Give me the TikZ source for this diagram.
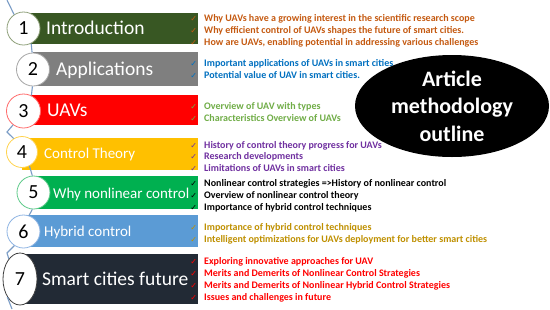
\documentclass[tikz,border=0pt]{standalone}
\usepackage{fontspec}
\setmainfont{Carlito}
\newfontfamily\symfont{DejaVu Sans}
\usetikzlibrary{shapes.geometric}
\definecolor{barA}{HTML}{385723}
\definecolor{barB}{HTML}{7F7F7F}
\definecolor{barC}{HTML}{FF0000}
\definecolor{barD}{HTML}{FFC000}
\definecolor{barE}{HTML}{00B050}
\definecolor{barF}{HTML}{5B9BD5}
\definecolor{barG}{HTML}{222A35}
\definecolor{txA}{HTML}{C55A11}
\definecolor{txB}{HTML}{0070C0}
\definecolor{txC}{HTML}{70AD47}
\definecolor{txD}{HTML}{7030A0}
\definecolor{txE}{HTML}{000000}
\definecolor{txF}{HTML}{BF9000}
\definecolor{txG}{HTML}{FF0000}
\definecolor{connc}{HTML}{7A9CC6}
\definecolor{rimA}{HTML}{8FA07A}
\definecolor{rimB}{HTML}{A6A6A6}
\definecolor{rimC}{HTML}{FF6B6B}
\definecolor{rimD}{HTML}{FFD34D}
\definecolor{rimE}{HTML}{5FCB8A}
\definecolor{rimF}{HTML}{8EB4E3}
\definecolor{rimG}{HTML}{404040}
\newcommand{\chk}{\llap{{\symfont\fontsize{8}{8}\selectfont ✓}\hspace{7pt}}}
\begin{document}
\begin{tikzpicture}[x=1pt,y=-1pt,
  bar/.style={rectangle, inner sep=0pt, anchor=north west},
  ttlbig/.style={anchor=base west, inner sep=0pt, text=white, font=\fontsize{19.5}{20}\selectfont},
  ttlsmall/.style={anchor=base west, inner sep=0pt, text=white, font=\fontsize{15}{16}\selectfont},
  numc/.style={circle, fill=white, line width=0.8pt, minimum size=33pt, inner sep=0pt, font=\fontsize{20}{20}\selectfont},
  item/.style={anchor=base west, inner sep=0pt, font=\bfseries\fontsize{10}{12}\selectfont},
  conn/.style={draw=connc, line width=1.1pt}]
\useasboundingbox (0,0) rectangle (550,309);
\fill[white] (0,0) rectangle (550,309);
% bars
\node[bar, fill=barA, minimum width=174pt, minimum height=31pt] (b1) at (24,13) {};
\node[bar, fill=barB, minimum width=165pt, minimum height=34pt] (b2) at (33,52) {};
\node[bar, fill=barC, minimum width=174pt, minimum height=30pt] (b3) at (24,95) {};
\node[bar, fill=barD, minimum width=176pt, minimum height=32pt] (b4) at (22,138) {};
\node[bar, fill=barE, minimum width=165pt, minimum height=33pt] (b5) at (33,176) {};
\node[bar, fill=barF, minimum width=174pt, minimum height=32pt] (b6) at (24,215) {};
\node[bar, fill=barG, minimum width=178pt, minimum height=50pt] (b7) at (20,254) {};
% titles
\node[ttlbig] (t1) at (46,34.7) {Introduction};
\node[ttlbig] (t2) at (56,75.2) {Applications};
\node[ttlbig] (t3) at (47,116) {UAVs};
\node[ttlsmall] (t4) at (44,158.5) {Control Theory};
\node[ttlsmall] (t5) at (53,198) {Why nonlinear control};
\node[ttlsmall] (t6) at (44,236) {Hybrid control};
\node[ttlbig] (t7) at (42,285) {Smart cities future};
% connectors
\coordinate (k0) at (7,0);
\coordinate (k1) at (7,132);
\coordinate (k2) at (7,253);
\coordinate (k3) at (12,309);
\node[numc, draw=rimA] (c1) at (23.5,28.5) {1};
\node[numc, draw=rimB] (c2) at (33,69.5) {2};
\node[numc, draw=rimC, minimum size=34pt] (c3) at (23.5,111) {3};
\node[numc, draw=rimD, minimum size=31pt] (c4) at (22,152) {4};
\node[numc, draw=rimE] (c5) at (33.5,192.5) {5};
\node[numc, draw=rimF] (c6) at (23.5,231.5) {6};
\node[ellipse, fill=white, draw=rimG, line width=0.8pt, minimum width=34pt, minimum height=52pt, inner sep=0pt, font=\fontsize{20}{20}\selectfont] (c7) at (20,279) {7};
\begin{scope}[on background layer/.style={}]
\draw[conn] (k0) -- (c1.124);
\draw[conn] (c1.-63) -- (c2.93);
\draw[conn] (c2.-92) -- (c3.63);
\draw[conn] (c3.233) -- (k1) -- (c4.122);
\draw[conn] (c4.-62) -- (c5.94);
\draw[conn] (c5.-94) -- (c6.71);
\draw[conn] (c6.237) -- (k2) -- (c7.119);
\draw[conn] (c7.-125) -- (k3);
\end{scope}
% items
\foreach \yy/\tx [count=\i] in {21/{Why UAVs have a growing interest in the scientific research scope},
  33/{Why efficient control of UAVs shapes the future of smart cities.},
  45/{How are UAVs, enabling potential in addressing various challenges}}
  \node[item, text=txA] (ia\i) at (204,\yy) {\chk\tx};
\foreach \yy/\tx [count=\i] in {66/{Important applications of UAVs in smart cities},
  78/{Potential value of UAV in smart cities.}}
  \node[item, text=txB] (ib\i) at (204,\yy) {\chk\tx};
\foreach \yy/\tx [count=\i] in {109.5/{Overview of UAV with types},
  121.5/{Characteristics Overview of UAVs}}
  \node[item, text=txC] (ic\i) at (204,\yy) {\chk\tx};
\foreach \yy/\tx [count=\i] in {148/{History of control theory progress for UAVs},
  159.5/{Research developments},
  171/{Limitations of UAVs in smart cities}}
  \node[item, text=txD] (id\i) at (204,\yy) {\chk\tx};
\foreach \yy/\tx [count=\i] in {186/{Nonlinear control strategies =>History of nonlinear control},
  198/{Overview of nonlinear control theory},
  210/{Importance of hybrid control techniques}}
  \node[item, text=txE] (ie\i) at (204,\yy) {\chk\tx};
\foreach \yy/\tx [count=\i] in {230/{Importance of hybrid control techniques},
  242/{Intelligent optimizations for UAVs deployment for better smart cities}}
  \node[item, text=txF] (if\i) at (204,\yy) {\chk\tx};
\foreach \yy/\tx [count=\i] in {264.5/{Exploring innovative approaches for UAV},
  276.5/{Merits and Demerits of Nonlinear Control Strategies},
  288.5/{Merits and Demerits of Nonlinear Hybrid Control Strategies},
  300.5/{Issues and challenges in future}}
  \node[item, text=txG] (ig\i) at (204,\yy) {\chk\tx};
% ellipse
\node[ellipse, fill=black, minimum width=194pt, minimum height=102pt, inner sep=0pt] (ell) at (452,106) {};
\node[align=center, text=white, inner sep=0pt, font=\bfseries\fontsize{22}{27.5}\selectfont] (elltxt) at (ell.center) {Article\\methodology\\outline};
\end{tikzpicture}
\end{document}
